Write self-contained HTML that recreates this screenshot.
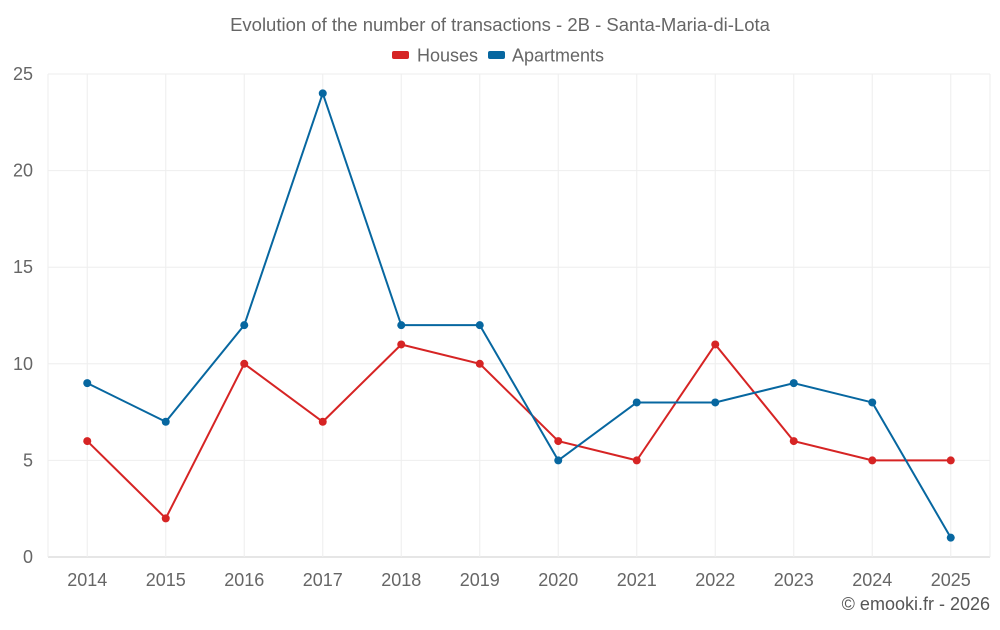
<!DOCTYPE html>
<html><head><meta charset="utf-8"><style>
body{margin:0;background:#fff;font-family:"Liberation Sans",sans-serif}
</style></head><body>
<svg id="chart" width="1000" height="625" xmlns="http://www.w3.org/2000/svg" style="font-family:'Liberation Sans',sans-serif">
<text x="500" y="31" text-anchor="middle" font-size="18.5" fill="#666">Evolution of the number of transactions - 2B - Santa-Maria-di-Lota</text>
<g>
<g><rect x="392" y="51" width="17" height="8" rx="2" fill="#d62424"/><text x="417" y="61.5" font-size="18" fill="#666">Houses</text></g>
<g><rect x="488" y="51" width="17" height="8" rx="2" fill="#0767a0"/><text x="512" y="61.5" font-size="18" fill="#666">Apartments</text></g>
</g>
<g id="grid"></g><g id="axes"></g><g id="series"></g>
<text x="990" y="610" text-anchor="end" font-size="18" fill="#555">© emooki.fr - 2026</text>
</svg>
<script>
const years=["2014","2015","2016","2017","2018","2019","2020","2021","2022","2023","2024","2025"];
const houses=[6,2,10,7,11,10,6,5,11,6,5,5];
const apartments=[9,7,12,24,12,12,5,8,8,9,8,1];
const yTicks=[0,5,10,15,20,25];
const L=48,R=990,T=74,B=557,yMax=25;
const NS="http://www.w3.org/2000/svg";
const bw=(R-L)/years.length;
const x=i=>L+bw*(i+0.5);
const y=v=>B-(B-T)*v/yMax;
function mk(tag,attrs,parent){const e=document.createElementNS(NS,tag);for(const k in attrs)e.setAttribute(k,attrs[k]);document.getElementById(parent).appendChild(e);return e;}
yTicks.forEach(t=>{
 const g=mk('line',{x1:L,x2:R,y1:y(t),y2:y(t),stroke:t===0?'#ccc':'#eee','stroke-width':1},'grid');
 
 
 const l=mk('text',{x:33,y:y(t)+6,'text-anchor':'end','font-size':18,fill:'#666'},'axes');
 l.textContent=t;
 
 
});
mk('line',{x1:L,x2:L,y1:T,y2:B,stroke:'#eee'},'grid');
mk('line',{x1:R,x2:R,y1:T,y2:B,stroke:'#eee'},'grid');
years.forEach((yr,i)=>{
 const g=mk('line',{x1:x(i),x2:x(i),y1:T,y2:B,stroke:'#eee'},'grid');
 
 
 const l=mk('text',{x:x(i),y:586,'text-anchor':'middle','font-size':18,fill:'#666'},'axes');
 l.textContent=yr;
 
 
});
function series(data,color,name){
 const p=mk('polyline',{points:data.map((v,i)=>x(i)+','+y(v)).join(' '),fill:'none',stroke:color,'stroke-width':2},'series');
 
 
 data.forEach((v,i)=>{
  const c=mk('circle',{cx:x(i),cy:y(v),r:4,fill:color},'series');
  
  
 });
}
series(houses,'#d62424','houses');
series(apartments,'#0767a0','apartments');
</script>
</body></html>
